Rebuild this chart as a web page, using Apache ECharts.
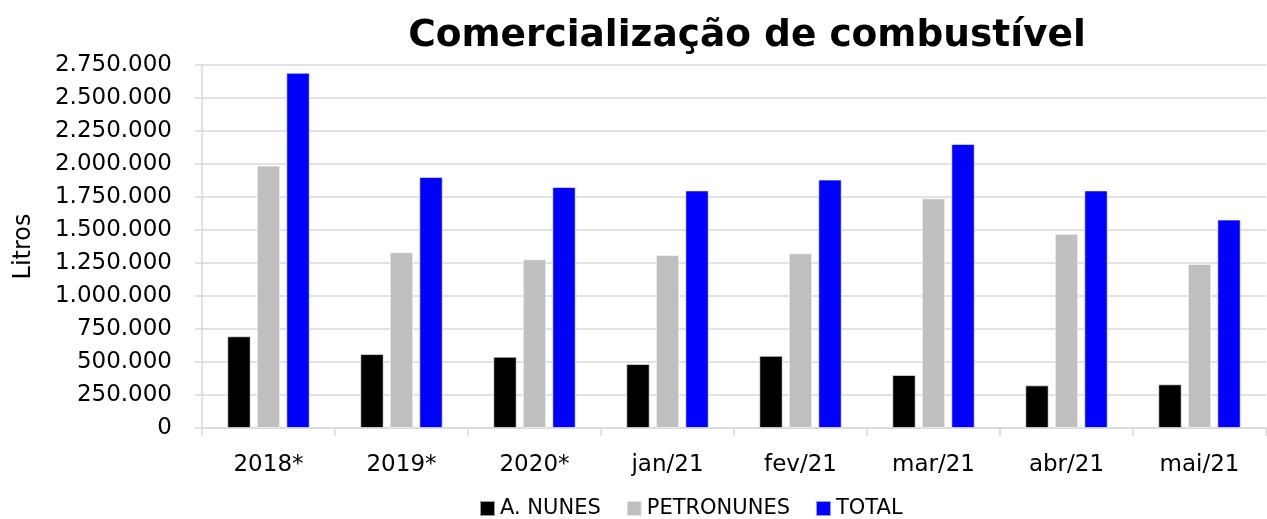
<!DOCTYPE html>
<html>
<head>
<meta charset="utf-8">
<title>Comercialização de combustível</title>
<script src="https://cdn.jsdelivr.net/npm/echarts@6/dist/echarts.min.js"></script>
<style>
  html, body { margin: 0; padding: 0; background: #fff; }
  #chart { width: 1267px; height: 519px; }
</style>
</head>
<body>
<div id="chart"></div>
<script>
// values (litros)
const categories = ['2018*', '2019*', '2020*', 'jan/21', 'fev/21', 'mar/21', 'abr/21', 'mai/21'];
const aNunes     = [695000, 560000, 540000, 485000, 547000, 402000, 323000, 331000];
const petronunes = [1988000, 1332000, 1278000, 1311000, 1324000, 1740000, 1472000, 1243000];
const total      = [2691000, 1902000, 1826000, 1800000, 1882000, 2152000, 1800000, 1579000];

const font = 'DejaVu Sans';
const fmt = v => v.toString().replace(/\B(?=(\d{3})+(?!\d))/g, '.');

const chart = echarts.init(document.getElementById('chart'));

const bar = (name, data, color) => ({
  name,
  type: 'bar',
  data,
  barGap: '26%',
  barCategoryGap: '38%',
  itemStyle: { color, borderColor: 'rgba(255,255,255,0.6)', borderWidth: 1 }
});

chart.setOption({
  animation: false,
  title: {
    text: 'Comercialização de combustível',
    left: 742,
    top: 12,
    textAlign: 'center',
    textStyle: { fontFamily: font, fontWeight: 'bold', fontSize: 37.5, color: '#000' }
  },
  legend: {
    top: 493,
    left: 474,
    itemWidth: 15,
    itemHeight: 15,
    itemGap: 25,
    icon: 'rect',
    textStyle: { fontFamily: font, fontSize: 21, color: '#000' }
  },
  grid: { left: 202, right: 1, top: 65, bottom: 91 },
  xAxis: {
    type: 'category',
    data: categories,
    axisLine: { lineStyle: { color: '#D9D9D9', width: 1.5 } },
    axisTick: { show: true, length: 8, lineStyle: { color: '#D9D9D9', width: 1.5 } },
    axisLabel: { fontFamily: font, fontSize: 23, color: '#000', margin: 26 }
  },
  yAxis: {
    type: 'value',
    min: 0,
    max: 2750000,
    interval: 250000,
    name: 'Litros',
    nameLocation: 'middle',
    nameGap: 166,
    nameRotate: 90,
    nameTextStyle: { fontFamily: font, fontSize: 24, color: '#000' },
    axisLine: { show: true, lineStyle: { color: '#D9D9D9', width: 1.5 } },
    axisTick: { show: true, inside: false, length: 7, lineStyle: { color: '#D9D9D9', width: 1.5 } },
    splitLine: { lineStyle: { color: '#D9D9D9', width: 1.5 } },
    axisLabel: { fontFamily: font, fontSize: 23, color: '#000', margin: 30, formatter: fmt }
  },
  series: [
    bar('A. NUNES', aNunes, '#000000'),
    bar('PETRONUNES', petronunes, '#BFBFBF'),
    bar('TOTAL', total, '#0000FF')
  ]
});

window.addEventListener('resize', () => chart.resize());
</script>
</body>
</html>
